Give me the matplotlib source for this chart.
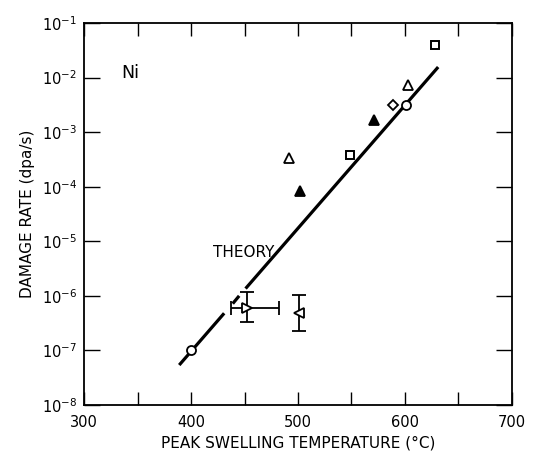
import matplotlib
matplotlib.use("Agg")
import matplotlib.pyplot as plt
from matplotlib.ticker import FixedLocator, NullLocator, LogFormatterSciNotation

plt.rcParams['font.family'] = ['DejaVu Sans']
plt.rcParams['mathtext.fontset'] = 'dejavusans'

# ---- data ----
# open circles
circ_T = [400, 601]
circ_R = [1.0e-7, 3.2e-3]
# open triangles (up)
otri_T = [492, 603]
otri_R = [3.3e-4, 7.2e-3]
# filled triangles (up)
ftri_T = [502, 571]
ftri_R = [8.3e-5, 1.7e-3]
# open squares
sq_T = [549, 628]
sq_R = [3.8e-4, 4.0e-2]
# open diamond
dia_T = [589]
dia_R = [3.2e-3]
# right-pointing triangle with error bars
rtri_T = [452]
rtri_R = [6.0e-7]
rtri_xlo = [15]
rtri_xhi = [30]
rtri_ylo = [3.3e-7]
rtri_yhi = [1.2e-6]
# left-pointing triangle with error bars
ltri_T = [501]
ltri_R = [4.9e-7]
ltri_ylo = [2.3e-7]
ltri_yhi = [1.05e-6]

# theory line pieces (solid, dash, solid)
theory_seg1_T = [389, 431]
theory_seg1_R = [5.4e-8, 4.8e-7]
theory_seg2_T = [439, 445]
theory_seg2_R = [7.2e-7, 1.0e-6]
theory_seg3_T = [451, 631]
theory_seg3_R = [1.36e-6, 1.56e-2]

x_ticks = [300, 350, 400, 450, 500, 550, 600, 650, 700]
x_labels = ['300', '', '400', '', '500', '', '600', '', '700']
y_ticks = [1e-8, 1e-7, 1e-6, 1e-5, 1e-4, 1e-3, 1e-2, 1e-1]

fig = plt.figure(figsize=(5.34, 4.55), dpi=100)
ax = fig.add_axes([84/534, 1-405/455, (512-84)/534, (405-23)/455])
ax.set_yscale('log')
ax.set_xlim(300, 700)
ax.set_ylim(1e-8, 1e-1)

lw = 2.3
for T, R in [(theory_seg1_T, theory_seg1_R), (theory_seg2_T, theory_seg2_R),
             (theory_seg3_T, theory_seg3_R)]:
    ax.plot(T, R, color='black', lw=lw, solid_capstyle='butt', zorder=2)

mk = dict(color='black', linestyle='none', markersize=6.5, markeredgewidth=1.3, zorder=3)
ax.plot(circ_T, circ_R, marker='o', markerfacecolor='white', **mk)
ax.plot(otri_T, otri_R, marker='^', markerfacecolor='white', **mk)
ax.plot(ftri_T, ftri_R, marker='^', markerfacecolor='black', **mk)
ax.plot(sq_T, sq_R, marker='s', markerfacecolor='white', markersize=6.3, color='black',
        linestyle='none', markeredgewidth=1.4, zorder=3)
ax.plot(dia_T, dia_R, marker='D', markerfacecolor='white', markersize=5.5, color='black',
        linestyle='none', markeredgewidth=1.3, zorder=3)

ry = [[rtri_R[0] - rtri_ylo[0]], [rtri_yhi[0] - rtri_R[0]]]
ax.errorbar(rtri_T, rtri_R, xerr=[rtri_xlo, rtri_xhi], yerr=ry, fmt='>',
            markerfacecolor='white', markeredgecolor='black', ecolor='black',
            markersize=7, markeredgewidth=1.3, elinewidth=1.3, capsize=5, capthick=1.3, zorder=3)
ly = [[ltri_R[0] - ltri_ylo[0]], [ltri_yhi[0] - ltri_R[0]]]
ax.errorbar(ltri_T, ltri_R, yerr=ly, fmt='<',
            markerfacecolor='white', markeredgecolor='black', ecolor='black',
            markersize=7, markeredgewidth=1.3, elinewidth=1.3, capsize=5, capthick=1.3, zorder=3)

ax.text(449, 6.3e-6, 'THEORY', fontsize=11, ha='center', va='center')
ax.text(343, 1.2e-2, 'Ni', fontsize=12.5, ha='center', va='center')

ax.xaxis.set_major_locator(FixedLocator(x_ticks))
ax.set_xticklabels(x_labels)
ax.yaxis.set_major_locator(FixedLocator(y_ticks))
ax.yaxis.set_major_formatter(LogFormatterSciNotation())
ax.yaxis.set_minor_locator(NullLocator())
ax.tick_params(axis='x', which='major', direction='in', length=9.5, width=1.0,
               top=True, bottom=True, labelsize=10.5, pad=7)
ax.tick_params(axis='y', which='major', direction='in', length=11.5, width=1.0,
               left=True, right=True, labelsize=10.5, pad=5)
for s in ax.spines.values():
    s.set_linewidth(1.3)

ax.set_xlabel('PEAK SWELLING TEMPERATURE (°C)', fontsize=11, labelpad=4)
ax.set_ylabel('DAMAGE RATE (dpa/s)', fontsize=11, labelpad=5)

fig.savefig('out.png', dpi=100)
